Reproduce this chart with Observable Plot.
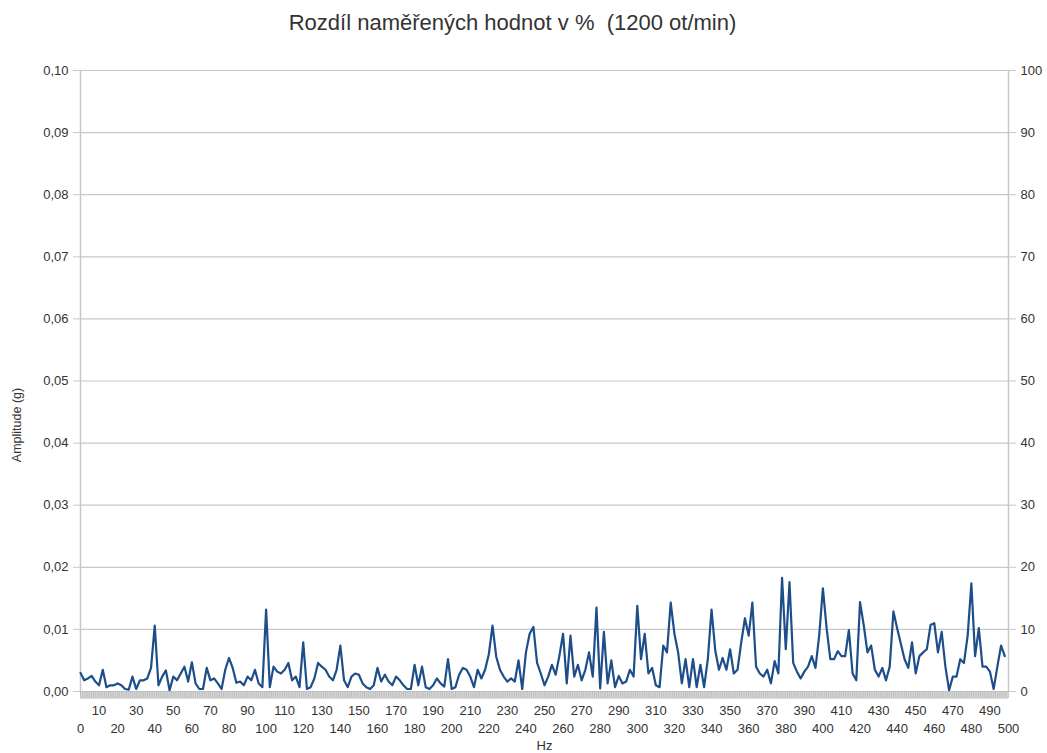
<!DOCTYPE html>
<html>
<head>
<meta charset="utf-8">
<script src="https://cdn.jsdelivr.net/npm/d3@7"></script>
<script src="https://cdn.jsdelivr.net/npm/@observablehq/plot@0.6"></script>
<style>
  body { margin: 0; background: #fff; }
  svg { display: block; }
</style>
</head>
<body>
<div id="chart"></div>
<script>
// Difference of measured amplitudes, in percent, sampled every 2 Hz from 0 Hz.
const hzStep = 2;
const diffPercent = [
  3.0, 1.8, 2.1, 2.5, 1.6, 1.0, 3.5, 0.7, 1.0, 1.0, 1.3, 1.0, 0.4, 0.3, 2.4, 0.4,
  1.8, 1.8, 2.1, 3.8, 10.6, 1.0, 2.4, 3.4, 0.2, 2.4, 1.8, 2.9, 4.0, 1.6, 4.7, 1.3,
  0.4, 0.4, 3.8, 1.8, 2.1, 1.3, 0.4, 3.5, 5.4, 3.8, 1.4, 1.6, 1.0, 2.4, 1.8, 3.5,
  1.3, 0.7, 13.2, 0.7, 4.0, 3.2, 2.9, 3.5, 4.6, 1.8, 2.4, 0.7, 7.9, 0.4,
  0.7, 2.1, 4.6, 4.0, 3.5, 2.4, 1.8, 3.5, 7.4, 1.8, 0.7, 2.4, 2.9, 2.7, 1.3, 0.7,
  0.4, 1.0, 3.8, 1.6, 2.7, 1.6, 1.0, 2.4, 1.8, 1.0, 0.4, 0.4, 4.3, 1.0, 4.0, 0.7,
  0.4, 1.0, 2.1, 1.3, 0.8, 5.2, 0.4, 0.7, 2.7, 3.8, 3.5, 2.4, 0.7, 3.5, 2.1, 3.5,
  6.0, 10.6, 5.6, 3.5, 2.4, 1.6, 2.1, 1.6, 5.0, 0.4, 6.3, 9.3, 10.4, 4.6, 2.9,
  1.0, 2.4, 4.3, 2.7, 5.7, 9.3, 1.3, 9.0, 2.4, 4.3, 1.8, 3.5, 6.3, 2.4, 13.5, 0.5,
  9.6, 1.3, 5.0, 0.7, 2.5, 1.3, 1.6, 3.5, 2.4, 13.8, 5.2, 9.3, 2.9, 3.8, 1.0, 0.7,
  7.4, 6.3, 14.3, 9.3, 6.3, 1.3, 5.2, 0.7, 5.2, 0.7, 4.3, 0.7, 5.2, 13.2, 6.6, 3.5,
  5.4, 3.5, 6.8, 2.9, 3.5, 7.9, 11.8, 9.0, 14.3, 4.0, 2.9, 2.4, 3.5, 1.3,
  4.9, 2.9, 18.3, 6.8, 17.6, 4.6, 3.2, 2.1, 3.2, 4.0, 5.7, 3.8, 9.0, 16.6, 10.2, 5.2,
  5.2, 6.5, 5.7, 5.7, 9.9, 2.9, 1.8, 14.4, 10.7, 6.3, 7.4, 3.5, 2.4, 3.8, 1.8, 4.0,
  12.9, 10.2, 7.7, 5.2, 3.8, 7.9, 2.9, 5.7, 6.3, 6.8, 10.7, 11.0, 6.3, 9.6, 4.0, 0.2,
  2.4, 2.4, 5.2, 4.6, 9.0, 17.4, 5.7, 10.2, 4.0, 4.0, 3.2, 0.4, 4.0, 7.4, 5.7
];

// Tick values and labels
const percentTicks = [0, 10, 20, 30, 40, 50, 60, 70, 80, 90, 100];
const amplitudeTickLabels = ["0,00", "0,01", "0,02", "0,03", "0,04", "0,05", "0,06", "0,07", "0,08", "0,09", "0,10"];
const hzUpperRow = [10, 30, 50, 70, 90, 110, 130, 150, 170, 190, 210, 230, 250, 270, 290, 310, 330, 350, 370, 390, 410, 430, 450, 470, 490];
const hzLowerRow = [0, 20, 40, 60, 80, 100, 120, 140, 160, 180, 200, 220, 240, 260, 280, 300, 320, 340, 360, 380, 400, 420, 440, 460, 480, 500];
const hzDomain = [0, 500];

const chartTitle = "Rozdíl naměřených hodnot v %\u00a0 (1200 ot/min)";
const xLabel = "Hz";
const yLabel = "Amplitude (g)";

const series = diffPercent.map((v, i) => ({hz: i * hzStep, value: v}));
const categoryTicks = d3.range(hzDomain[0], hzDomain[1] + 1);

const textColor = "#333333";
const gridColor = "#c8c8c8";

const chart = Plot.plot({
  width: 1047,
  height: 753,
  marginLeft: 80,
  marginRight: 39,
  marginTop: 70,
  marginBottom: 62,
  style: {fontFamily: "'Liberation Sans', Arial, sans-serif", fontSize: "13px", background: "#fff", color: textColor},
  x: {domain: hzDomain, axis: null},
  y: {domain: [0, 100], axis: null},
  marks: [
    Plot.gridY(percentTicks, {stroke: gridColor, strokeOpacity: 1, strokeWidth: 1.2}),
    Plot.ruleX(hzDomain, {stroke: gridColor, strokeWidth: 1.5}),
    // dense category tick band under the x axis
    Plot.ruleY([0], {stroke: "#dcdcdc", strokeWidth: 7, dy: 4}),
    Plot.axisX(categoryTicks, {anchor: "bottom", tickSize: 7, stroke: "#b0b0b0", strokeWidth: 0.7, tickFormat: () => "", label: null}),
    Plot.axisY(percentTicks, {anchor: "left", tickSize: 7, tickPadding: 5, stroke: gridColor, fill: textColor, fontSize: 13, tickFormat: (d, i) => amplitudeTickLabels[i], label: null}),
    Plot.axisY(percentTicks, {anchor: "right", tickSize: 7, tickPadding: 5, stroke: gridColor, fill: textColor, fontSize: 13, label: null}),
    Plot.text(hzUpperRow, {x: d => d, text: d => String(d), frameAnchor: "bottom", lineAnchor: "middle", dy: 19, fill: textColor, fontSize: 13}),
    Plot.text(hzLowerRow, {x: d => d, text: d => String(d), frameAnchor: "bottom", lineAnchor: "middle", dy: 37, fill: textColor, fontSize: 13}),
    Plot.text([xLabel], {text: d => d, frameAnchor: "bottom", lineAnchor: "middle", dy: 54, fill: textColor, fontSize: 13}),
    Plot.text([yLabel], {text: d => d, frameAnchor: "left", textAnchor: "middle", lineAnchor: "middle", dx: -64, dy: 44, rotate: -90, fill: textColor, fontSize: 12.5}),
    Plot.text([chartTitle], {text: d => d, frameAnchor: "top", lineAnchor: "middle", dx: -32, dy: -48, fill: textColor, fontSize: 22}),
    Plot.lineY(series, {x: "hz", y: "value", stroke: "#1d4e8a", strokeWidth: 2.2})
  ]
});

document.getElementById("chart").appendChild(chart);
</script>
</body>
</html>
